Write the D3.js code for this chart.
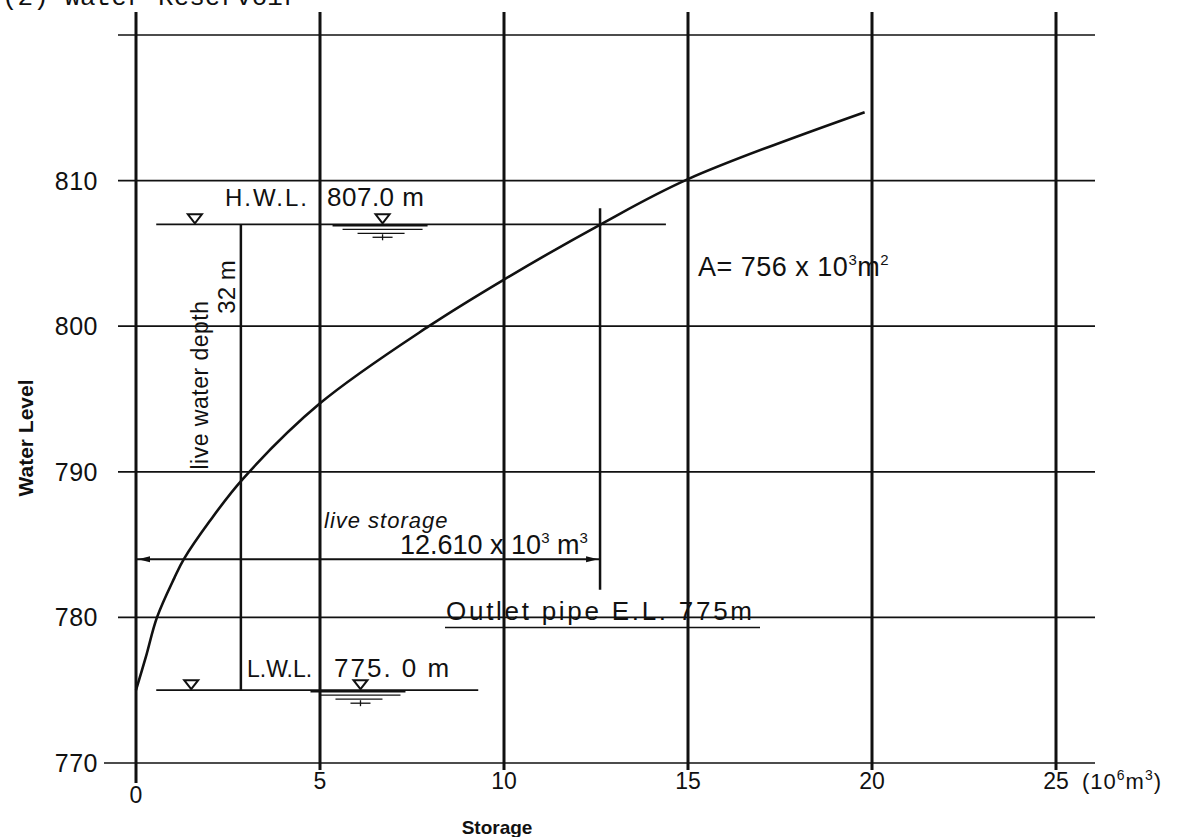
<!DOCTYPE html>
<html lang="en">
<head>
    <meta charset="UTF-8">
    <title>Water Reservoir - Storage Curve</title>
    <style>
        body {
            margin: 0;
            background-color: #fff;
            font-family: "Liberation Sans", Arial, sans-serif;
        }
        svg text {
            fill: #111;
        }
    </style>
    <script src="https://d3js.org/d3.v7.min.js"></script>
</head>
<body>
    <div id="chart"></div>

    <script>
        // storage (10^6 m3) vs water level (m)
        const storage = [0, 0.27, 0.57, 1.04, 1.3, 2.0, 2.9, 5, 7.96, 10, 12.63, 15, 19.8];
        const level = [775, 777.3, 780, 782.7, 784, 786.6, 789.5, 794.7, 800, 803.2, 807, 810.1, 814.7];

        const xTicks = [0, 5, 10, 15, 20, 25];
        const yTicks = [770, 780, 790, 800, 810, 820];
        const yLabels = ["770", "780", "790", "800", "810", ""];

        // reservoir levels used for the annotations
        const hwl = 807;
        const lwl = 775;
        const liveStorageLevel = 784;
        const liveStorageEnd = 12.61;
        const depthLineAt = 2.85;
        const outletLevel = 780;

        const width = 1191;
        const height = 837;

        const svg = d3.select("#chart").append("svg")
            .attr("width", width)
            .attr("height", height);

        const x = d3.scaleLinear().domain([0, 25]).range([136, 1056]);
        const y = d3.scaleLinear().domain([770, 820]).range([763, 35]);

        // title, cut off by the top edge in the scan
        svg.append("text")
            .attr("x", 2)
            .attr("y", 5)
            .attr("font-family", "Liberation Mono, monospace")
            .attr("font-size", 26)
            .text("(2)   Water Reservoir");

        // horizontal grid lines
        svg.append("g")
            .selectAll("line")
            .data(yTicks)
            .enter().append("line")
            .attr("x1", d => d === 770 ? 104 : 118)
            .attr("x2", 1095)
            .attr("y1", d => y(d))
            .attr("y2", d => y(d))
            .attr("stroke", "#111")
            .attr("stroke-width", 1.7);

        // vertical grid lines
        svg.append("g")
            .selectAll("line")
            .data(xTicks)
            .enter().append("line")
            .attr("x1", d => x(d))
            .attr("x2", d => x(d))
            .attr("y1", 12)
            .attr("y2", d => d === 0 ? 783 : 770)
            .attr("stroke", "#111")
            .attr("stroke-width", 3);

        // y tick labels
        svg.append("g")
            .selectAll("text")
            .data(yTicks)
            .enter().append("text")
            .attr("x", 98)
            .attr("y", d => y(d) + 9)
            .attr("text-anchor", "end")
            .attr("font-size", 25)
            .attr("letter-spacing", 0.5)
            .text((d, i) => yLabels[i]);

        // x tick labels
        svg.append("g")
            .selectAll("text")
            .data(xTicks)
            .enter().append("text")
            .attr("x", d => x(d))
            .attr("y", d => d === 0 ? 803 : 789)
            .attr("text-anchor", "middle")
            .attr("font-size", 23)
            .text(d => d);

        const unit = svg.append("text")
            .attr("x", 1082)
            .attr("y", 789)
            .attr("font-size", 22)
            .attr("letter-spacing", 1);
        unit.append("tspan").text("(10");
        unit.append("tspan").attr("font-size", 14).attr("dy", -9).text("6");
        unit.append("tspan").attr("dy", 9).text("m");
        unit.append("tspan").attr("font-size", 14).attr("dy", -9).text("3");
        unit.append("tspan").attr("dy", 9).text(")");

        // axis titles
        svg.append("text")
            .attr("x", 497)
            .attr("y", 834)
            .attr("text-anchor", "middle")
            .attr("font-size", 19)
            .attr("font-weight", "bold")
            .text("Storage");

        svg.append("text")
            .attr("transform", "translate(33,438) rotate(-90)")
            .attr("text-anchor", "middle")
            .attr("font-size", 21)
            .attr("font-weight", "bold")
            .text("Water  Level");

        // storage curve
        const line = d3.line()
            .x(d => x(d[0]))
            .y(d => y(d[1]))
            .curve(d3.curveCatmullRom.alpha(0.5));

        svg.append("path")
            .datum(storage.map((s, i) => [s, level[i]]))
            .attr("d", line)
            .attr("fill", "none")
            .attr("stroke", "#111")
            .attr("stroke-width", 2.6);

        const ann = svg.append("g").attr("stroke", "#111").attr("fill", "none");

        // H.W.L. and L.W.L. lines
        ann.append("line")
            .attr("x1", x(0.55)).attr("x2", x(14.4))
            .attr("y1", y(hwl)).attr("y2", y(hwl))
            .attr("stroke-width", 1.8);
        ann.append("line")
            .attr("x1", x(0.55)).attr("x2", x(9.3))
            .attr("y1", y(lwl)).attr("y2", y(lwl))
            .attr("stroke-width", 1.8);

        // live water depth vertical
        ann.append("line")
            .attr("x1", x(depthLineAt)).attr("x2", x(depthLineAt))
            .attr("y1", y(hwl)).attr("y2", y(lwl))
            .attr("stroke-width", 2.5);

        // live storage end vertical
        ann.append("line")
            .attr("x1", x(liveStorageEnd)).attr("x2", x(liveStorageEnd))
            .attr("y1", y(808.1)).attr("y2", y(781.9))
            .attr("stroke-width", 2.5);

        // live storage arrow line
        ann.append("line")
            .attr("x1", x(0)).attr("x2", x(liveStorageEnd))
            .attr("y1", y(liveStorageLevel)).attr("y2", y(liveStorageLevel))
            .attr("stroke-width", 2);
        const ya = y(liveStorageLevel);
        svg.append("path")
            .attr("d", `M${x(0) + 2},${ya} l12,-3 l0,6 z`)
            .attr("fill", "#111");
        svg.append("path")
            .attr("d", `M${x(liveStorageEnd) - 2},${ya} l-12,-3 l0,6 z`)
            .attr("fill", "#111");

        // small water-level triangles
        function marker(sx, lev, surface) {
            const cx = x(sx), cy = y(lev);
            ann.append("path")
                .attr("d", `M${cx - 7},${cy - 10} L${cx + 7},${cy - 10} L${cx},${cy - 1} Z`)
                .attr("stroke-width", 2);
            if (surface) {
                ann.append("line").attr("x1", cx - 50).attr("x2", cx + 45)
                    .attr("y1", cy + 1).attr("y2", cy + 1).attr("stroke-width", 2.5);
                ann.append("line").attr("x1", cx - 40).attr("x2", cx + 40)
                    .attr("y1", cy + 5).attr("y2", cy + 5).attr("stroke-width", 1.3);
                ann.append("line").attr("x1", cx - 25).attr("x2", cx + 22)
                    .attr("y1", cy + 9).attr("y2", cy + 9).attr("stroke-width", 1.3);
                ann.append("line").attr("x1", cx - 10).attr("x2", cx + 10)
                    .attr("y1", cy + 13).attr("y2", cy + 13).attr("stroke-width", 1.3);
                ann.append("line").attr("x1", cx).attr("x2", cx)
                    .attr("y1", cy + 10).attr("y2", cy + 16).attr("stroke-width", 1.3);
            }
        }
        marker(1.6, hwl, false);
        marker(6.7, hwl, true);
        marker(1.5, lwl, false);
        marker(6.1, lwl, true);

        // texts
        svg.append("text").attr("x", 225).attr("y", 206).attr("font-size", 24)
            .attr("letter-spacing", 2).text("H.W.L.");
        svg.append("text").attr("x", 327).attr("y", 206).attr("font-size", 26)
            .attr("letter-spacing", 0.5).text("807.0 m");

        svg.append("text").attr("x", 247).attr("y", 677).attr("font-size", 23).text("L.W.L.");
        svg.append("text").attr("x", 334).attr("y", 677).attr("font-size", 26)
            .attr("letter-spacing", 2).text("775. 0 m");

        svg.append("text")
            .attr("transform", "translate(208,385) rotate(-90)")
            .attr("text-anchor", "middle")
            .attr("font-size", 23)
            .attr("letter-spacing", 0.5)
            .text("live water depth");
        svg.append("text")
            .attr("transform", "translate(235,287) rotate(-90)")
            .attr("text-anchor", "middle")
            .attr("font-size", 24)
            .text("32 m");

        svg.append("text").attr("x", 324).attr("y", 528)
            .attr("font-size", 22).attr("font-style", "italic")
            .attr("letter-spacing", 1).text("live storage");
        const ls = svg.append("text").attr("x", 400).attr("y", 554).attr("font-size", 27);
        ls.append("tspan").text("12.610 x 10");
        ls.append("tspan").attr("font-size", 15).attr("dy", -11).text("3");
        ls.append("tspan").attr("dy", 11).text(" m");
        ls.append("tspan").attr("font-size", 15).attr("dy", -11).text("3");

        svg.append("text").attr("x", 446).attr("y", y(outletLevel) + 3)
            .attr("font-size", 26)
            .attr("textLength", 306)
            .attr("lengthAdjust", "spacing")
            .text("Outlet  pipe   E.L. 775m");
        ann.append("line")
            .attr("x1", 445).attr("x2", 760)
            .attr("y1", y(outletLevel) + 10).attr("y2", y(outletLevel) + 10)
            .attr("stroke-width", 1.5);

        const a = svg.append("text").attr("x", 698).attr("y", 276)
            .attr("font-size", 27).attr("letter-spacing", 0.5);
        a.append("tspan").text("A= 756 x 10");
        a.append("tspan").attr("font-size", 15).attr("dy", -11).text("3");
        a.append("tspan").attr("dy", 11).text("m");
        a.append("tspan").attr("font-size", 15).attr("dy", -11).text("2");
    </script>
</body>
</html>
